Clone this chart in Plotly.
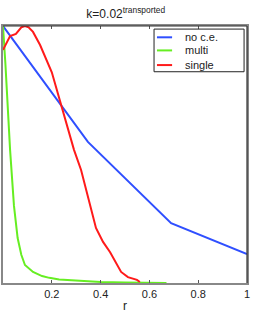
import plotly.graph_objects as go

series_names = ["no c.e.", "multi", "single"]
series_colors = ["#2f4fff", "#66ee22", "#ff1a1a"]

no_ce_x = [0.0, 0.348, 0.689, 1.0]
no_ce_y = [1.0, 0.549, 0.233, 0.113]

multi_x = [0.0, 0.01, 0.029, 0.045, 0.06, 0.075, 0.09, 0.123, 0.16, 0.19, 0.23, 0.3, 0.4, 0.5, 0.67]
multi_y = [1.0, 0.85, 0.518, 0.3, 0.175, 0.11, 0.07, 0.043, 0.027, 0.02, 0.014, 0.009, 0.004, 0.002, 0.0]

single_x = [0.0, 0.029, 0.053, 0.075, 0.09, 0.105, 0.123, 0.152, 0.2, 0.242, 0.291, 0.32, 0.35, 0.381, 0.41, 0.439, 0.484, 0.512, 0.549, 0.561]
single_y = [0.907, 0.961, 0.969, 0.995, 1.0, 0.995, 0.977, 0.926, 0.82, 0.685, 0.518, 0.44, 0.33, 0.214, 0.16, 0.12, 0.043, 0.023, 0.012, 0.004]

xticks = [0, 0.2, 0.4, 0.6, 0.8, 1]
xtick_text = ["0", "0.2", "0.4", "0.6", "0.8", "1"]

fig = go.Figure()
for name, color, xs, ys in zip(series_names, series_colors,
                               [no_ce_x, multi_x, single_x],
                               [no_ce_y, multi_y, single_y]):
    fig.add_trace(go.Scatter(x=xs, y=ys, mode="lines", name=name, showlegend=False,
                             line=dict(color=color, width=2)))

fig.update_layout(
    width=253, height=313,
    margin=dict(l=3, r=6, t=26, b=30),
    paper_bgcolor="white", plot_bgcolor="white",
    font=dict(family="Liberation Sans, Arial, sans-serif", size=11, color="#222"),
    title=dict(text="k=0.02<sup>transported</sup>", x=0.497, xanchor="center",
               y=1 - 14/313, yanchor="middle", font=dict(size=12)),
    showlegend=False,
    xaxis=dict(range=[0, 1], tickvals=xticks, ticktext=xtick_text,
               showgrid=False, zeroline=False, showline=True, linecolor="#888",
               linewidth=2, mirror="ticks", ticks="inside", ticklen=3,
               tickcolor="#555", automargin=False,
               title=dict(text="r", standoff=2, font=dict(size=12))),
    yaxis=dict(range=[0, 1], showgrid=False, zeroline=False, showline=True,
               linecolor="#888", linewidth=2, mirror=True, ticks="",
               showticklabels=False, automargin=False),
)
fig.add_shape(type="line", xref="paper", yref="paper", x0=0, x1=1, y0=1, y1=1,
              line=dict(color="#333", width=1.2), layer="above")
fig.add_shape(type="line", xref="paper", yref="paper", x0=1, x1=1, y0=0, y1=1,
              line=dict(color="#333", width=1.2), layer="above")

# legend box drawn manually (compact spacing like the reference)
fig.add_shape(type="rect", xref="paper", yref="paper", x0=0.619, x1=0.988,
              y0=0.822, y1=0.988, line=dict(color="#222", width=1),
              fillcolor="white", layer="above")
legend_rows = [0.956, 0.905, 0.848]
for name, color, yy in zip(series_names, series_colors, legend_rows):
    fig.add_shape(type="line", xref="paper", yref="paper", x0=0.631, x1=0.693,
                  y0=yy, y1=yy, line=dict(color=color, width=2), layer="above")
    fig.add_annotation(xref="paper", yref="paper", x=0.738, y=yy, text=name,
                       showarrow=False, xanchor="left", yanchor="middle",
                       font=dict(size=11, color="#222"))

fig.write_html("out.html", config={"displayModeBar": False},
               post_script="document.body.style.margin='0';document.body.style.overflow='hidden';")
